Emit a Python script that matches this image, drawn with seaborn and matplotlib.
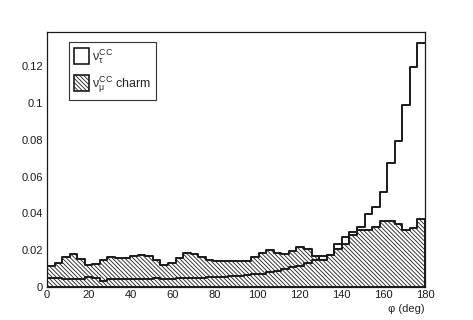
import numpy as np
import pandas as pd
import matplotlib
matplotlib.use("Agg")
import matplotlib.pyplot as plt
from matplotlib.patches import Patch
from matplotlib.ticker import MultipleLocator, FuncFormatter
import seaborn as sns

# ---- data: 50 bins from 0 to 180 deg ----
phi_min, phi_max, n_bins = 0.0, 180.0, 50
nutau_cc = [0.0050, 0.0050, 0.0043, 0.0042, 0.0043, 0.0053, 0.0050, 0.0032, 0.0041, 0.0044,
            0.0045, 0.0045, 0.0046, 0.0045, 0.0047, 0.0044, 0.0046, 0.0047, 0.0048, 0.0050,
            0.0051, 0.0052, 0.0054, 0.0055, 0.0058, 0.0060, 0.0064, 0.0068, 0.0073, 0.0080,
            0.0088, 0.0100, 0.0106, 0.0114, 0.0128, 0.0146, 0.0170, 0.0176, 0.0232, 0.0272,
            0.0300, 0.0326, 0.0398, 0.0433, 0.0517, 0.0671, 0.0793, 0.0988, 0.1196, 0.1323]
numu_charm = [0.0115, 0.0133, 0.0163, 0.0177, 0.0154, 0.0118, 0.0123, 0.0149, 0.0162, 0.0160,
              0.0160, 0.0168, 0.0175, 0.0170, 0.0147, 0.0117, 0.0132, 0.0160, 0.0182, 0.0177,
              0.0164, 0.0148, 0.0142, 0.0142, 0.0143, 0.0141, 0.0143, 0.0161, 0.0187, 0.0201,
              0.0187, 0.0177, 0.0198, 0.0216, 0.0206, 0.0167, 0.0149, 0.0176, 0.0204, 0.0234,
              0.0285, 0.0309, 0.0311, 0.0328, 0.0358, 0.0360, 0.0340, 0.0310, 0.0322, 0.0368]
x_ticks = [0, 20, 40, 60, 80, 100, 120, 140, 160, 180]
y_ticks = [0, 0.02, 0.04, 0.06, 0.08, 0.1, 0.12]
label_tau = r"$\nu_{\tau}^{\mathrm{CC}}$"
label_charm = r"$\nu_{\mu}^{\mathrm{CC}}$ charm"
x_label = "\u03c6 (deg)"

edges = np.linspace(phi_min, phi_max, n_bins + 1)
centers = 0.5 * (edges[:-1] + edges[1:])
df_tau = pd.DataFrame({"phi": centers, "w": nutau_cc})
df_charm = pd.DataFrame({"phi": centers, "w": numu_charm})

sns.set_style("white")
plt.rcParams["font.family"] = ["Liberation Sans", "DejaVu Sans"]
plt.rcParams["mathtext.fontset"] = "custom"
plt.rcParams["mathtext.rm"] = "Liberation Sans"
plt.rcParams["mathtext.it"] = "Liberation Sans"
plt.rcParams["hatch.linewidth"] = 0.6
plt.rcParams["hatch.color"] = "#444444"

fig = plt.figure(figsize=(4.73, 3.20), dpi=100)
ax = fig.add_axes([47 / 473, 1 - 287 / 320, 378 / 473, 255 / 320])

hatch = "\\" * 8
sns.histplot(data=df_charm, x="phi", weights="w", bins=n_bins, binrange=(phi_min, phi_max),
             element="step", fill=True, stat="count", ax=ax,
             color="white", edgecolor="#1a1a1a", linewidth=1.4, alpha=1)
for coll in ax.collections:
    coll.set_hatch(hatch)
    coll.set_facecolor("white")
    coll.set_edgecolor("#1a1a1a")

sns.histplot(data=df_tau, x="phi", weights="w", bins=n_bins, binrange=(phi_min, phi_max),
             element="step", fill=False, stat="count", ax=ax,
             color="#1a1a1a", linewidth=1.4)

ax.set_xlim(phi_min, phi_max)
ax.set_ylim(0, 0.1385)
ax.set_xticks(x_ticks)
ax.set_yticks(y_ticks)
ax.xaxis.set_minor_locator(MultipleLocator(4))
ax.yaxis.set_minor_locator(MultipleLocator(0.005))
ax.yaxis.set_major_formatter(FuncFormatter(lambda v, p: "%g" % v))
ax.tick_params(axis="both", which="both", direction="in", labelsize=8,
               colors="#1a1a1a", width=0.8)
ax.tick_params(axis="y", which="major", length=8.2, pad=3)
ax.tick_params(axis="y", which="minor", length=4.1)
ax.tick_params(axis="x", which="major", length=5.5, pad=2)
ax.tick_params(axis="x", which="minor", length=2.75)
for s in ax.spines.values():
    s.set_visible(True)
    s.set_color("#1a1a1a")
    s.set_linewidth(0.9)

ax.set_ylabel("")
ax.set_xlabel(x_label, loc="right", fontsize=8, labelpad=3)

handles = [Patch(facecolor="white", edgecolor="#1a1a1a", linewidth=1.2),
           Patch(facecolor="white", edgecolor="#1a1a1a", linewidth=1.2, hatch=hatch)]
leg = ax.legend(handles, [label_tau, label_charm], loc="upper left",
                bbox_to_anchor=(0.058, 0.960), borderaxespad=0, fontsize=9,
                frameon=True, fancybox=False, framealpha=1, edgecolor="#333333",
                handlelength=1.2, handleheight=1.6, handletextpad=0.27,
                labelspacing=0.7, borderpad=0.38)
leg.get_frame().set_linewidth(0.8)

fig.savefig("out.png", dpi=100)
